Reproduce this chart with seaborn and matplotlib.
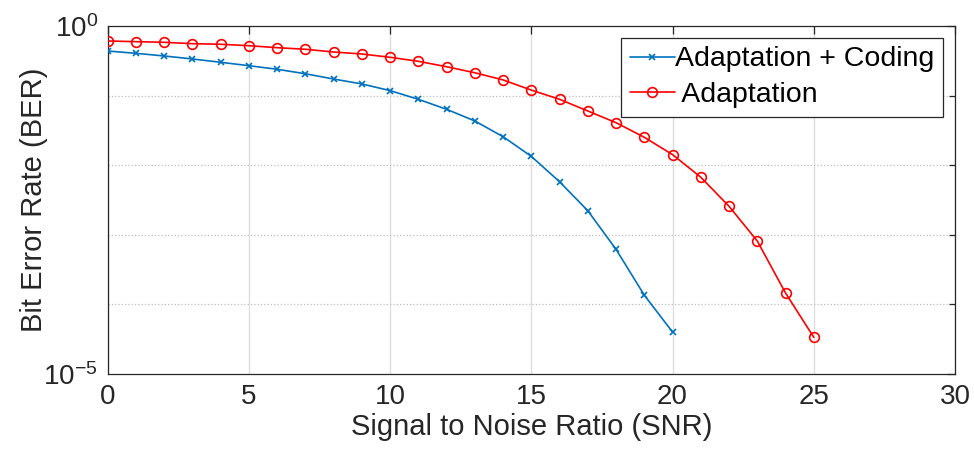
import matplotlib
matplotlib.use("Agg")
import matplotlib.pyplot as plt
import seaborn as sns
import pandas as pd

# SNR sweep (dB) and measured bit error rates
snr_coded = list(range(0, 21))
ber_coded = [0.437, 0.405, 0.371, 0.336, 0.301, 0.269, 0.239, 0.206, 0.173,
             0.147, 0.118, 0.0885, 0.0636, 0.0432, 0.0257, 0.0134, 0.00579,
             0.00222, 0.000619, 0.000136, 4.01e-5]

snr_adapt = list(range(0, 26))
ber_adapt = [0.609, 0.595, 0.583, 0.557, 0.546, 0.521, 0.488, 0.463, 0.423,
             0.396, 0.355, 0.311, 0.260, 0.213, 0.168, 0.120, 0.0885, 0.0601,
             0.0408, 0.0252, 0.0142, 0.00672, 0.00257, 0.000815, 0.000146,
             3.37e-5]

label_coded = "Adaptation + Coding"
label_adapt = " Adaptation"

x_ticks = [0, 5, 10, 15, 20, 25, 30]

sns.set_style("white")
plt.rcParams["font.family"] = ["Liberation Sans", "DejaVu Sans"]
plt.rcParams["mathtext.fontset"] = "custom"
plt.rcParams["mathtext.rm"] = "Liberation Sans"
plt.rcParams["mathtext.it"] = "Liberation Sans:italic"
plt.rcParams["mathtext.bf"] = "Liberation Sans:bold"

ink = "#262626"
blue = "#0072BD"
red = "#FF0000"

fig = plt.figure(figsize=(9.74, 4.55), dpi=100)
ax = fig.add_axes([0.1104, 0.178, 0.9805 - 0.1104, 0.9429 - 0.178])

df_coded = pd.DataFrame({"snr": snr_coded, "ber": ber_coded})
df_adapt = pd.DataFrame({"snr": snr_adapt, "ber": ber_adapt})

sns.lineplot(data=df_coded, x="snr", y="ber", ax=ax, color=blue, marker="x",
             markersize=5, markeredgecolor=blue, markeredgewidth=1.2,
             linewidth=1.2, label=label_coded, zorder=3)
sns.lineplot(data=df_adapt, x="snr", y="ber", ax=ax, color=red, marker="o",
             markersize=7, markerfacecolor="none", markeredgecolor=red,
             markeredgewidth=1.2, linewidth=1.2, label=label_adapt, zorder=3)

ax.set_yscale("log")
ax.set_xlim(0, 30)
ax.set_ylim(1e-5, 1)
ax.set_xticks(x_ticks)
ax.set_xticklabels([str(t) for t in x_ticks])
ax.set_yticks([1e-5, 1e0])
ax.set_yticklabels([r"$10^{-5}$", r"$10^{0}$"])
ax.set_yticks([1e-4, 1e-3, 1e-2, 1e-1], minor=True)
ax.set_yticklabels([], minor=True)

# grids: solid vertical on x ticks, dotted horizontal on the decades
ax.grid(True, axis="x", which="major", color="#dedede", linestyle="-", linewidth=1.0)
ax.grid(True, axis="y", which="minor", color="#bdbdbd", linestyle=":", linewidth=0.9)
ax.grid(False, axis="y", which="major")
ax.set_axisbelow(True)

ax.tick_params(axis="both", which="both", direction="in", top=True, right=True,
               colors=ink, labelcolor=ink, width=0.9)
ax.tick_params(axis="both", which="major", length=6, labelsize=20, pad=7)
ax.tick_params(axis="y", which="minor", length=4.5)
ax.tick_params(axis="x", which="minor", bottom=False, top=False)

for s in ax.spines.values():
    s.set_color(ink)
    s.set_linewidth(0.9)

ax.set_xlabel("Signal to Noise Ratio (SNR)", fontsize=21, color=ink, labelpad=2)
ax.set_ylabel("Bit Error Rate (BER)", fontsize=21, color=ink, labelpad=-3)

leg = ax.legend(loc="upper right", fontsize=20.5, frameon=True, fancybox=False,
                framealpha=1, edgecolor=ink, borderaxespad=0.42,
                handlelength=1.6, handletextpad=0.0, labelspacing=0.34,
                borderpad=0.3)
leg.get_frame().set_linewidth(0.9)
for t in leg.get_texts():
    t.set_color("black")

fig.savefig("out.png", dpi=100)
